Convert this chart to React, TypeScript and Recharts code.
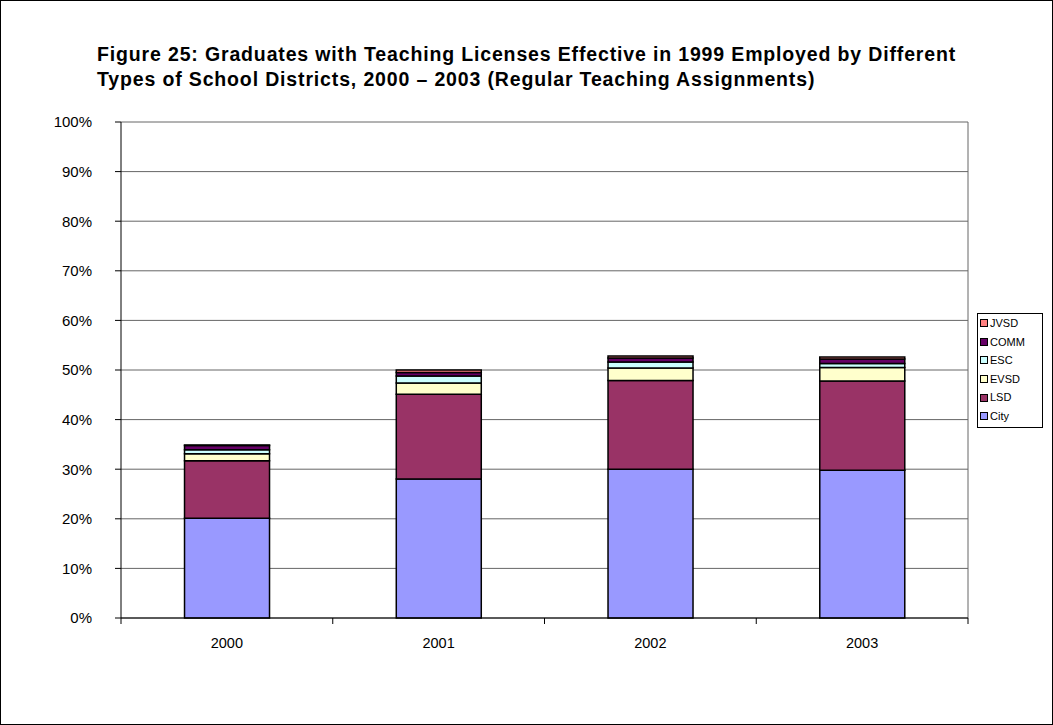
import React from 'react';
import { BarChart, Bar, XAxis, YAxis, CartesianGrid } from 'recharts';

const years = ['2000', '2001', '2002', '2003'];
const city = [20.1, 28.0, 30.0, 29.8];
const lsd = [11.6, 17.1, 17.9, 18.0];
const evsd = [1.4, 2.3, 2.5, 2.7];
const esc = [0.8, 1.4, 1.2, 0.8];
const comm = [0.9, 0.7, 0.8, 0.9];
const jvsd = [0.1, 0.5, 0.4, 0.4];
const yTicks = [0, 10, 20, 30, 40, 50, 60, 70, 80, 90, 100];

const series = [
    { key: 'City', color: '#9999FF' },
    { key: 'LSD', color: '#993366' },
    { key: 'EVSD', color: '#FFFFCC' },
    { key: 'ESC', color: '#CCFFFF' },
    { key: 'COMM', color: '#660066' },
    { key: 'JVSD', color: '#FF8080' },
];

const data = years.map((year, i) => ({
    year,
    City: city[i],
    LSD: lsd[i],
    EVSD: evsd[i],
    ESC: esc[i],
    COMM: comm[i],
    JVSD: jvsd[i],
}));

const font = 'Arial, "Liberation Sans", sans-serif';
const BAND = 211.75;

const XTick = (props: any) => {
    const { x, y, payload, index } = props;
    return (
        <g>
            <line x1={x + BAND / 2} y1={y - 8} x2={x + BAND / 2} y2={y - 2} stroke="#000" />
            {index === 0 && <line x1={x - BAND / 2} y1={y - 8} x2={x - BAND / 2} y2={y - 2} stroke="#000" />}
            <text x={x} y={y + 21.5} textAnchor="middle" fontSize={14.5} fontFamily={font} fill="#000">
                {payload.value}
            </text>
        </g>
    );
};

const LegendBox = () => (
    <div
        style={{
            position: 'absolute',
            left: 976,
            top: 312,
            border: '1px solid #000',
            background: '#fff',
            padding: '0 6px 1px 2px',
            fontFamily: font,
            fontSize: 11,
            lineHeight: '18.6px',
            width: 56,
        }}
    >
        {[...series].reverse().map((s) => (
            <div key={s.key} style={{ display: 'flex', alignItems: 'center' }}>
                <span
                    style={{
                        display: 'inline-block',
                        width: 6,
                        height: 6,
                        background: s.color,
                        border: '1px solid #000',
                        marginRight: 2,
                    }}
                />
                {s.key}
            </div>
        ))}
    </div>
);

const App: React.FC = () => {
    return (
        <div
            style={{
                position: 'absolute',
                left: 0,
                top: 0,
                width: 1053,
                height: 725,
                background: '#fff',
                boxSizing: 'border-box',
                border: '1px solid #000',
            }}
        >
            <div
                style={{
                    position: 'absolute',
                    left: 96,
                    top: 41,
                    fontFamily: font,
                    fontWeight: 'bold',
                    fontSize: 19.5,
                    letterSpacing: 0.85,
                    lineHeight: '25px',
                    color: '#000',
                    whiteSpace: 'nowrap',
                }}
            >
                Figure 25: Graduates with Teaching Licenses Effective in 1999 Employed by Different
                <br />
                Types of School Districts, 2000 – 2003 (Regular Teaching Assignments)
            </div>
            <BarChart
                width={1051}
                height={723}
                data={data}
                margin={{ top: 121, right: 84, left: 60, bottom: 76 }}
                barCategoryGap="30%"
            >
                <CartesianGrid
                    stroke="#666"
                    verticalCoordinatesGenerator={({ offset }: any) => [offset.left + offset.width]}
                />
                <XAxis
                    dataKey="year"
                    axisLine={{ stroke: '#000' }}
                    tickLine={false}
                    tick={<XTick />}
                    height={30}
                    interval={0}
                />
                <YAxis
                    domain={[0, 100]}
                    ticks={yTicks}
                    tickFormatter={(v: number) => `${v}%`}
                    axisLine={{ stroke: '#000' }}
                    tickLine={{ stroke: '#000' }}
                    tickSize={6}
                    tickMargin={23}
                    tick={{ fontSize: 15, fontFamily: font, fill: '#000' }}
                    width={60}
                    interval={0}
                />
                {series.map((s) => (
                    <Bar
                        key={s.key}
                        dataKey={s.key}
                        stackId="a"
                        fill={s.color}
                        stroke="#000"
                        strokeWidth={1.5}
                        isAnimationActive={false}
                    />
                ))}
            </BarChart>
            <LegendBox />
        </div>
    );
};

export default App;
